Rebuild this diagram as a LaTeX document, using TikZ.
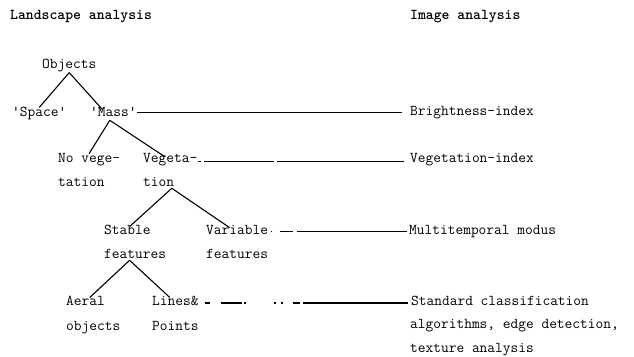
\documentclass[tikz,border=0pt]{standalone}
\begin{document}
\begin{tikzpicture}[x=1pt,y=1pt,
  lbl/.style={anchor=base west, inner sep=0pt, font=\fontsize{15}{18}\selectfont\ttfamily},
  head/.style={lbl, font=\fontsize{15}{18}\selectfont\ttfamily\bfseries},
  branch/.style={line width=1.1pt},
  link/.style={line width=1.1pt}]
\useasboundingbox (0,0) rectangle (634,356);

% column headings
\node[head] (land) at (10,336) {Landscape analysis};
\node[head] (img)  at (410,336) {Image analysis};

% landscape hierarchy
\node[lbl] (obj)     at (42,287)  {Objects};
\node[lbl] (space)   at (12,239)  {'Space'};
\node[lbl] (mass)    at (90,239)  {'Mass'};
\node[lbl] (novegA)  at (58,193)  {No vege-};
\node[lbl] (novegB)  at (58,169)  {tation};
\node[lbl] (vegA)    at (143,193) {Vegeta-};
\node[lbl] (vegB)    at (143,169) {tion};
\node[lbl] (stabA)   at (104,121) {Stable};
\node[lbl] (stabB)   at (104,97)  {features};
\node[lbl] (varA)    at (206,121) {Variable};
\node[lbl] (varB)    at (206,97)  {features};
\node[lbl] (aeral)   at (66,50)   {Aeral};
\node[lbl] (aeralB)  at (66,26)   {objects};
\node[lbl] (lines)   at (152,50)  {Lines\&};
\node[lbl] (linesB)  at (152,26)  {Points};

% image analysis methods
\node[lbl] (bright)  at (410,240) {Brightness-index};
\node[lbl] (vegidx)  at (410,193) {Vegetation-index};
\node[lbl] (multi)   at (409,121) {Multitemporal modus};
\node[lbl] (std)     at (411,51)  {Standard classification};
\node[lbl] (alg)     at (410,28)  {algorithms, edge detection,};
\node[lbl] (tex)     at (410,4)   {texture analysis};

% tree branches
\draw[branch] (obj.south) -- (space.north);
\draw[branch] (obj.south) -- ([shift={(-10.6pt,-2.4pt)}]mass.north);
\draw[branch] ([shift={(-3.6pt,-3pt)}]mass.south) -- (novegA.north);
\draw[branch] ([shift={(-3.6pt,-3pt)}]mass.south) -- ([shift={(-5.6pt,-3pt)}]vegA.north);
\draw[branch] ([shift={(-2.5pt,-1pt)}]vegB.south east) -- ([shift={(2.4pt,-1pt)}]stabA.north);
\draw[branch] ([shift={(-2.5pt,-1pt)}]vegB.south east) -- ([shift={(-7.5pt,-2pt)}]varA.north);
\draw[branch] ([shift={(-5.5pt,-1pt)}]stabB.south) -- ([shift={(4.3pt,-1pt)}]aeral.north);
\draw[branch] ([shift={(-5.5pt,-1pt)}]stabB.south) -- ([shift={(-5.6pt,-1pt)}]lines.north);

% links to the image analysis column
\draw[link, shorten >=8pt] (mass.east) -- (mass.east -| bright.west);
\draw[link, shorten <=1pt, shorten >=6pt,
      dash pattern=on 3pt off 3pt on 70pt off 3pt on 400pt off 0pt]
  ([yshift=-1pt]vegA.east) -- ([yshift=-1pt]vegA.east -| vegidx.west);
\draw[link, shorten <=2.5pt, shorten >=2pt,
      dash pattern=on 1.5pt off 7.5pt on 13pt off 4pt on 400pt off 0pt]
  ([yshift=-0.6pt]varA.east) -- ([yshift=-0.6pt]varA.east -| multi.west);
\draw[link, shorten <=5.75pt, shorten >=3pt,
      dash pattern=on 5pt off 11pt on 21pt off 2.5pt on 1.5pt off 28.5pt on 1.5pt off 5.5pt on 1.5pt off 10pt on 7pt off 3pt on 400pt off 0pt]
  ([yshift=-1.6pt]lines.east) -- ([yshift=-1.6pt]lines.east -| std.west);
\end{tikzpicture}
\end{document}
